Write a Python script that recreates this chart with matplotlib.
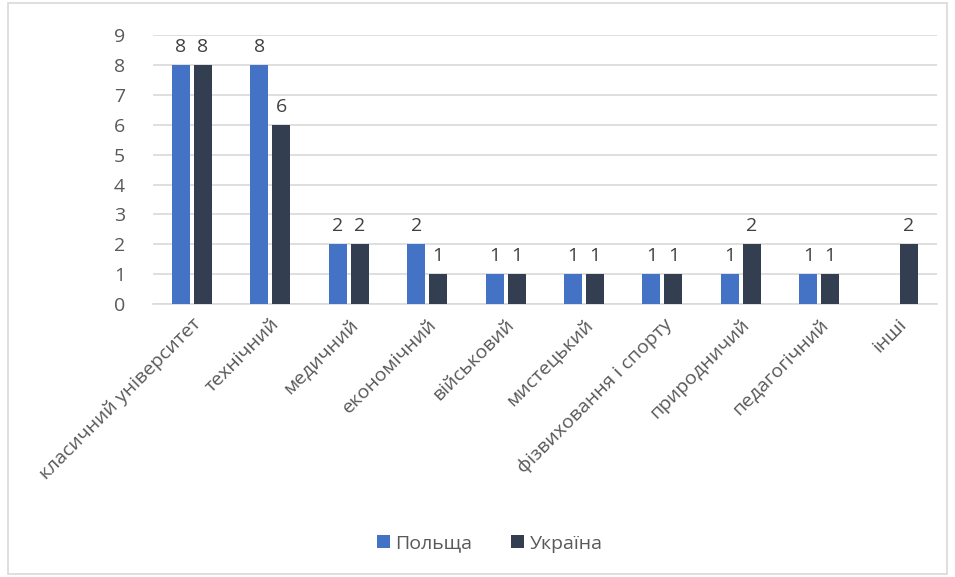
import matplotlib.pyplot as plt
import numpy as np
from matplotlib.patches import Rectangle

categories = ['класичний університет', 'технічний', 'медичний', 'економічний',
              'військовий', 'мистецький', 'фізвиховання і спорту', 'природничий',
              'педагогічний', 'інші']
poland = [8, 8, 2, 2, 1, 1, 1, 1, 1, None]
ukraine = [8, 6, 2, 1, 1, 1, 1, 2, 1, 2]

plt.rcParams['font.family'] = ['Open Sans', 'DejaVu Sans']
text_col = '#595959'

fig = plt.figure(figsize=(9.55, 5.77), dpi=100)
ax = fig.add_axes([0.160, 0.473, 0.821, 0.466])

x = np.arange(len(categories))
w = 0.23
off = 0.14
pl_vals = [v if v is not None else 0 for v in poland]
b1 = ax.bar(x - off, pl_vals, w, color='#4472C4', label='Польща', zorder=3)
b2 = ax.bar(x + off, ukraine, w, color='#333F50', label='Україна', zorder=3)

for rect, v in zip(b1, poland):
    if v is not None:
        ax.text(rect.get_x() + rect.get_width() / 2, v + 0.3, str(v),
                ha='center', va='bottom', fontsize=14, color='#404040')
for rect, v in zip(b2, ukraine):
    ax.text(rect.get_x() + rect.get_width() / 2, v + 0.3, str(v),
            ha='center', va='bottom', fontsize=14, color='#404040')

ax.set_xlim(-0.5, len(categories) - 0.5)
ax.set_ylim(0, 9)
ax.set_yticks(range(10))
ax.yaxis.grid(True, color='#D9D9D9', linewidth=1.2, zorder=0)
for s in ['top', 'right', 'left']:
    ax.spines[s].set_visible(False)
ax.spines['bottom'].set_color('#D9D9D9')
ax.spines['bottom'].set_linewidth(1.2)
ax.tick_params(axis='both', length=0, labelsize=14, colors=text_col)
ax.tick_params(axis='y', pad=20)
ax.tick_params(axis='x', pad=8)
ax.set_xticks(x)
ax.set_xticklabels(categories, rotation=45, ha='right', rotation_mode='anchor')

fig.legend(handles=[b1, b2], loc='center', bbox_to_anchor=(0.513, 0.058),
           ncol=2, frameon=False, fontsize=14, labelcolor=text_col,
           handlelength=0.65, handleheight=0.65, handletextpad=0.3, columnspacing=2.0)

fig.patches.append(Rectangle((0.008, 0.005), 0.984, 0.99, transform=fig.transFigure,
                             fill=False, edgecolor='#D9D9D9', linewidth=1.2))

fig.savefig('out.png', dpi=100)
